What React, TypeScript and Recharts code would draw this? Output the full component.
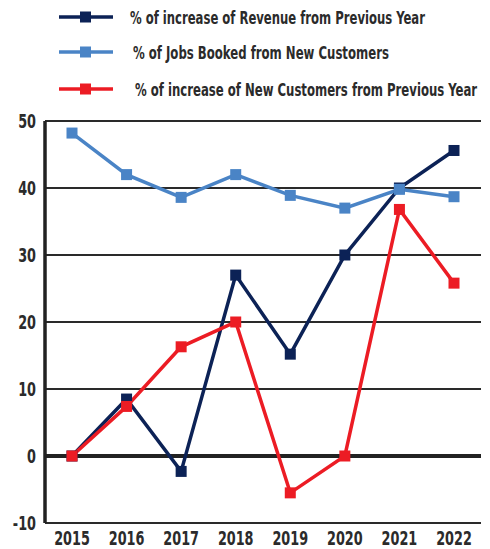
import { useLayoutEffect, useRef, useState } from "react";
import { LineChart, Line, XAxis, YAxis, CartesianGrid, ReferenceLine, Legend } from "recharts";

const years = ["2015", "2016", "2017", "2018", "2019", "2020", "2021", "2022"];
const revenueIncrease = [0, 8.5, -2.3, 27, 15.2, 30, 40, 45.6];
const jobsNewCustomers = [48.2, 42, 38.6, 42, 38.9, 37, 39.8, 38.7];
const newCustomersIncrease = [0, 7.4, 16.3, 20, -5.5, 0, 36.8, 25.8];
const yTicks = [-10, 0, 10, 20, 30, 40, 50];

const series = [
  { key: "revenue", label: "% of increase of Revenue from Previous Year", color: "#0c2256", textX: 130, textW: 295 },
  { key: "jobs", label: "% of Jobs Booked from New Customers", color: "#4a84c6", textX: 133, textW: 256 },
  { key: "newCust", label: "% of increase of New Customers from Previous Year", color: "#ec1c24", textX: 135, textW: 342 },
];

const data = years.map((year, i) => ({
  year,
  revenue: revenueIncrease[i],
  jobs: jobsNewCustomers[i],
  newCust: newCustomersIncrease[i],
}));

const font = "'DejaVu Sans Condensed', 'Liberation Sans Narrow', sans-serif";
const textColor = "#2b2b2b";
const squeeze = 0.75;

function squareDot(color: string) {
  return (props: any) => {
    const { cx, cy, index } = props;
    if (cx == null || cy == null) return <g key={index} />;
    return <rect key={index} x={cx - 5.5} y={cy - 5.5} width={11} height={11} fill={color} />;
  };
}

// condensed look: squeeze the glyphs horizontally
function XTick(props: any) {
  const { x, y, payload } = props;
  return (
    <g transform={`translate(${x},${y}) scale(${squeeze},1)`}>
      <text x={0} y={0} dy={16} textAnchor="middle" fontSize={19} fontWeight="bold" fill={textColor} fontFamily={font}>
        {payload.value}
      </text>
    </g>
  );
}

function YTick(props: any) {
  const { x, y, payload } = props;
  return (
    <g transform={`translate(${x},${y}) scale(${squeeze},1)`}>
      <text x={0} y={0} dy={7} textAnchor="end" fontSize={19} fontWeight="bold" fill={textColor} fontFamily={font}>
        {payload.value}
      </text>
    </g>
  );
}

function FitText({ x, y, width, children }: { x: number; y: number; width: number; children: string }) {
  const ref = useRef<SVGTextElement>(null);
  const [sx, setSx] = useState(0.75);
  useLayoutEffect(() => {
    if (ref.current) {
      const w = ref.current.getComputedTextLength();
      if (w > 0) setSx(width / w);
    }
  }, [width, children]);
  return (
    <g transform={`translate(${x},${y}) scale(${sx},1)`}>
      <text ref={ref} x={0} y={0} fontSize={17.5} fontWeight="bold" fill={textColor} fontFamily={font}>
        {children}
      </text>
    </g>
  );
}

function LegendBox() {
  const rows = [17, 52, 89];
  return (
    <svg width={490} height={110} style={{ position: "absolute", left: 0, top: 0 }}>
      {series.map((s, i) => (
        <g key={s.key}>
          <line x1={59} x2={113} y1={rows[i]} y2={rows[i]} stroke={s.color} strokeWidth={3.5} />
          <rect x={80} y={rows[i] - 5.5} width={11} height={11} fill={s.color} />
          <FitText x={s.textX} y={rows[i] + 6.5} width={s.textW}>
            {s.label}
          </FitText>
        </g>
      ))}
    </svg>
  );
}

export default function App() {
  return (
    <div style={{ position: "absolute", left: 0, top: 0, width: 490, height: 549, background: "#fff" }}>
      <LineChart width={490} height={549} data={data} margin={{ top: 121, right: 9, left: 5, bottom: 0 }}>
        <CartesianGrid vertical={false} stroke="#2a2a2a" strokeWidth={2} />
        <XAxis
          dataKey="year"
          height={26}
          padding={{ left: 27, right: 27 }}
          axisLine={false}
          tickLine={false}
          tick={<XTick />}
          tickMargin={0}
        />
        <YAxis
          domain={[-10, 50]}
          ticks={yTicks}
          width={40}
          axisLine={{ stroke: "#222", strokeWidth: 3.5 }}
          tickLine={false}
          tick={<YTick />}
          tickMargin={3}
        />
        <ReferenceLine y={0} stroke="#222" strokeWidth={4} />
        {series.map((s) => (
          <Line
            key={s.key}
            dataKey={s.key}
            name={s.label}
            type="linear"
            stroke={s.color}
            strokeWidth={3.5}
            dot={squareDot(s.color)}
            activeDot={false}
            isAnimationActive={false}
          />
        ))}
        <Legend content={() => null} />
      </LineChart>
      <LegendBox />
    </div>
  );
}
